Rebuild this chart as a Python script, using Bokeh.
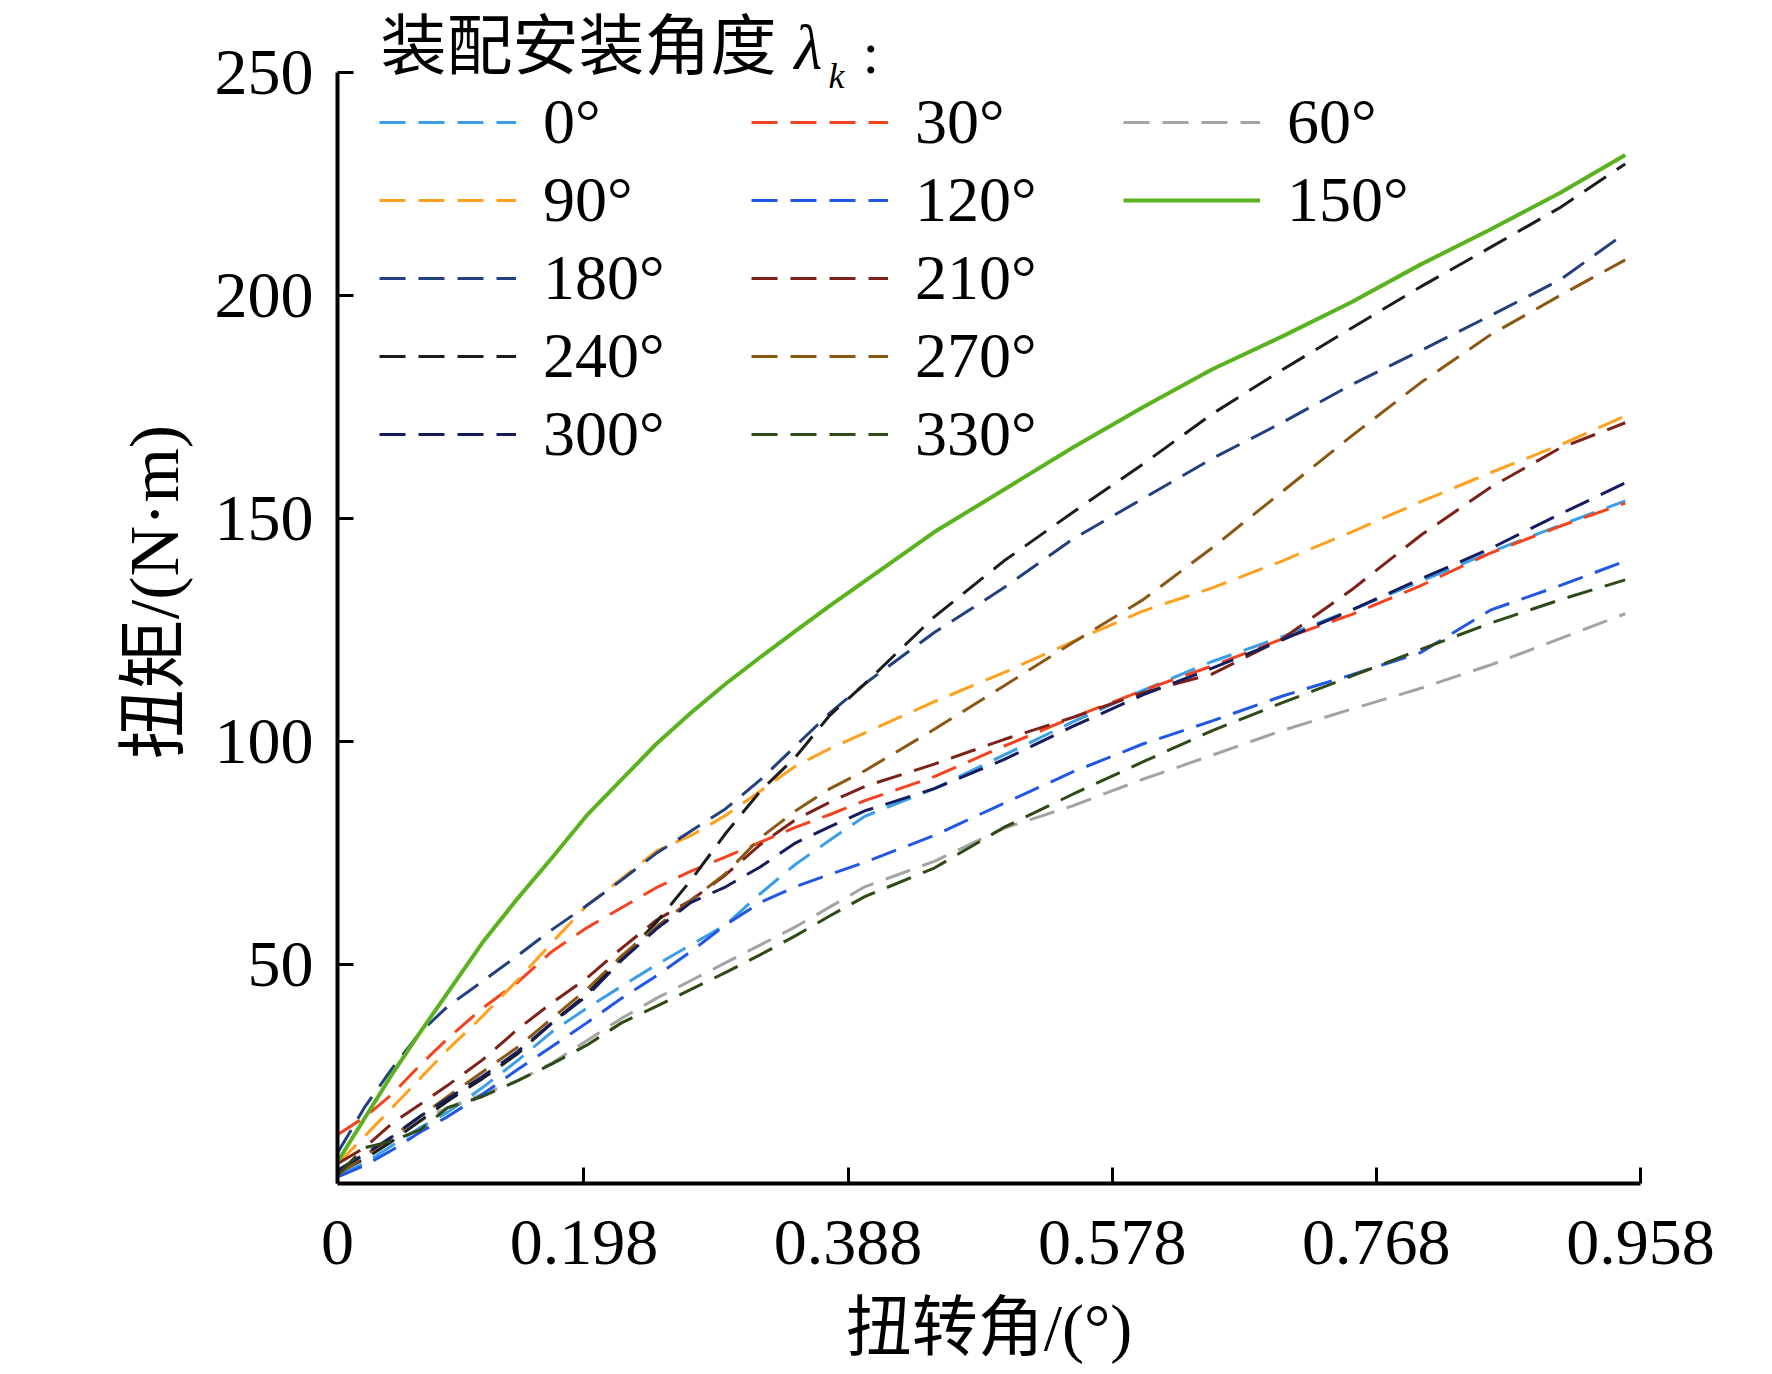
from bokeh.plotting import figure
from bokeh.models import Range1d, FixedTicker, Legend, LegendItem, Label
from bokeh.embed import file_html
from bokeh.resources import INLINE

# ---------------- data ----------------
x_angle = [0.021, 0.04, 0.06, 0.08, 0.10, 0.125, 0.15, 0.175, 0.20, 0.225, 0.25, 0.275,
           0.30, 0.325, 0.35, 0.375, 0.40, 0.45, 0.50, 0.55, 0.60, 0.65, 0.70, 0.75,
           0.80, 0.85, 0.90, 0.947]

torque_0 = [3, 5.5, 9.5, 13.5, 17, 22.5, 28.5, 35, 40.3, 45.2, 50, 54.5, 59, 66, 72.5, 78,
            83.3, 89.5, 97, 104.5, 111.5, 118, 123.5, 129.5, 136, 142.5, 148.5, 154]
torque_30 = [12, 15.8, 21, 27.5, 33.5, 40.3, 46, 53, 58.3, 62.8, 67.3, 71, 74.2, 77.5, 80.8,
             83.7, 86.8, 92.2, 99, 105.5, 111.5, 117, 123, 128.5, 135, 142.3, 148.3, 153.5]
torque_60 = [3, 7.5, 11, 15, 18, 21, 24, 28, 33, 38, 42.5, 46.5, 50.5, 54.5, 58.5, 63, 67.5,
             73.2, 80.6, 85.7, 91.6, 97, 102.5, 107.3, 112, 117.2, 123.1, 128.7]
torque_90 = [5.5, 11.5, 18, 24.5, 31, 38.5, 46.5, 55, 63.3, 69.3, 75.5, 79, 83.5, 89, 94.5,
             98.5, 102, 109, 115.5, 122.5, 129.3, 134.5, 140.5, 147, 153.8, 160.3, 166.5, 173]
torque_120 = [2.5, 5, 8.5, 12.5, 16, 21, 26.5, 31.7, 37, 42.5, 47.5, 53, 59, 64, 67.5, 70.3,
              73, 79, 86.2, 93.3, 99.5, 104.7, 110.2, 115, 120, 129.5, 135, 140.5]
torque_150 = [6, 15.5, 25.5, 34.8, 43.8, 55, 64.8, 74, 83.5, 91.5, 99.5, 106.5, 113, 119,
              124.8, 130.5, 136, 147, 156.5, 166, 175, 183.5, 190.8, 198.5, 207, 214.8,
              223, 231.5]
torque_180 = [8, 18, 26.8, 34.8, 40.7, 46.3, 52, 57.9, 63.3, 69, 75, 80, 85, 91.5, 99, 106.5,
              113, 124.5, 134.5, 145.5, 154.5, 163.5, 171.5, 180, 187.7, 195.5, 203.5, 214]
torque_210 = [5.5, 9, 14.5, 18.7, 23, 28.7, 35.5, 41.5, 47, 53.7, 60, 64.5, 70.2, 77, 82.5,
              86.5, 90, 95, 100.5, 105.5, 111, 115.2, 123, 134, 146.3, 157, 165.8, 171.5]
torque_240 = [3.5, 6.5, 10.5, 15, 19.5, 24.5, 30, 37, 43.5, 51.5, 59.5, 69, 79.5, 89, 96.5,
              106, 113, 128, 140.5, 151.5, 162.2, 173.5, 183.3, 192.7, 202, 210.8, 219.7, 229.5]
torque_270 = [3, 7, 11.5, 16, 20.5, 26, 31.5, 38, 44.5, 52, 58.5, 64.5, 70.5, 78.5, 84.5,
              89.5, 93.5, 102.8, 112.5, 122.3, 131.8, 143.5, 156, 168.5, 180.5, 191.2, 200, 208]
torque_300 = [4, 7.5, 11.5, 16, 20, 25, 30.5, 37, 43, 51, 58, 64, 67.5, 72, 77.3, 81, 84.5,
              89.5, 96, 103.5, 110.5, 116.5, 122.8, 129.5, 136.5, 143.3, 151, 158]
torque_330 = [3, 9, 10.5, 13, 18, 20.5, 24, 27.8, 32, 37, 40.7, 44.5, 48.3, 52.3, 56.5, 61,
              65.3, 71.7, 80.8, 88.3, 95.5, 102.5, 108.7, 114.7, 120.7, 126.6, 131.8, 136.3]

series_labels = ["0°", "30°", "60°", "90°", "120°", "150°",
                 "180°", "210°", "240°", "270°", "300°", "330°"]
series_values = [torque_0, torque_30, torque_60, torque_90, torque_120, torque_150,
                 torque_180, torque_210, torque_240, torque_270, torque_300, torque_330]
series_colors = ["#3A9EE8", "#F5431F", "#A3A3A3", "#FFA01E", "#2156E6", "#5AB21E",
                 "#223F7E", "#7D2219", "#1C1C1C", "#8C5713", "#131D5E", "#2E4A15"]
solid_series = ["150°"]

x_tick_values = [0.0207, 0.198, 0.388, 0.578, 0.768, 0.958]
x_tick_labels = ["0", "0.198", "0.388", "0.578", "0.768", "0.958"]
y_tick_values = [50, 100, 150, 200, 250]

legend_order = ["0°", "90°", "180°", "240°", "300°",
                "30°", "120°", "210°", "270°", "330°",
                "60°", "150°"]

x_title = "扭转角/(°)"
y_title = "扭矩/(N·m)"
legend_title = "装配安装角度"

SERIF = "Liberation Serif"
MIXED = "Liberation Serif, Noto Sans CJK SC"

# ---------------- figure ----------------
p = figure(frame_width=1303, frame_height=1183,
           min_border_left=337, min_border_right=116,
           min_border_top=0, min_border_bottom=175,
           x_range=Range1d(0.0207, 0.958), y_range=Range1d(1, 266.14),
           output_backend="svg", toolbar_location=None,
           background_fill_color="white", border_fill_color="white")
p.outline_line_color = None
p.grid.visible = False

for ax in (p.xaxis[0], p.yaxis[0]):
    ax.axis_line_width = 4
    ax.axis_line_color = "black"
    ax.major_tick_line_width = 3
    ax.major_tick_line_color = "black"
    ax.major_tick_in = 16
    ax.major_tick_out = 0
    ax.minor_tick_in = 0
    ax.minor_tick_out = 0
    ax.major_label_text_font = SERIF
    ax.major_label_text_font_size = "66px"
    ax.major_label_text_color = "black"
    ax.axis_label_text_font = MIXED
    ax.axis_label_text_font_style = "normal"
    ax.axis_label_text_color = "black"

p.xaxis.ticker = FixedTicker(ticks=x_tick_values)
p.xaxis.major_label_overrides = dict(zip(x_tick_values, x_tick_labels))
p.xaxis.major_label_standoff = 37
p.xaxis.axis_label = x_title
p.xaxis.axis_label_text_font_size = "66px"
p.xaxis.axis_label_standoff = 24

p.yaxis.ticker = FixedTicker(ticks=y_tick_values)
p.yaxis.bounds = (1, 250)
p.yaxis.major_label_standoff = 24
p.yaxis.axis_label = y_title
p.yaxis.axis_label_text_font_size = "70px"
p.yaxis.axis_label_standoff = 19

renderers = {}
for lab, vals, col in zip(series_labels, series_values, series_colors):
    if lab in solid_series:
        continue
    renderers[lab] = p.line(x_angle, vals, line_color=col, line_width=3,
                            line_dash="26 13")
for lab, vals, col in zip(series_labels, series_values, series_colors):
    if lab in solid_series:
        renderers[lab] = p.line(x_angle, vals, line_color=col, line_width=4)

legend = Legend(items=[LegendItem(label=l, renderers=[renderers[l]]) for l in legend_order],
                location=(42, 712), orientation="vertical", nrows=5, ncols=3,
                glyph_width=137, glyph_height=74, label_standoff=27, label_width=204,
                spacing=4, padding=0, margin=0,
                border_line_color=None, background_fill_alpha=0,
                label_text_font=SERIF, label_text_font_size="64px",
                label_text_color="black")
p.add_layout(legend)

p.add_layout(Label(x=43, y=1137, x_units="screen", y_units="screen", text=legend_title,
                   text_font=MIXED, text_font_size="66px",
                   text_baseline="alphabetic", text_align="left", text_color="black"))
p.add_layout(Label(x=457, y=1136, x_units="screen", y_units="screen", text="λ",
                   text_font=SERIF, text_font_style="italic", text_font_size="64px",
                   text_baseline="alphabetic", text_align="left", text_color="black"))
p.add_layout(Label(x=491, y=1108, x_units="screen", y_units="screen", text="k",
                   text_font=SERIF, text_font_style="italic", text_font_size="36px",
                   text_baseline="alphabetic", text_align="left", text_color="black"))
p.add_layout(Label(x=525, y=1131, x_units="screen", y_units="screen", text=":",
                   text_font=SERIF, text_font_size="60px",
                   text_baseline="alphabetic", text_align="left", text_color="black"))

open("out.html", "w").write(file_html(p, INLINE))
